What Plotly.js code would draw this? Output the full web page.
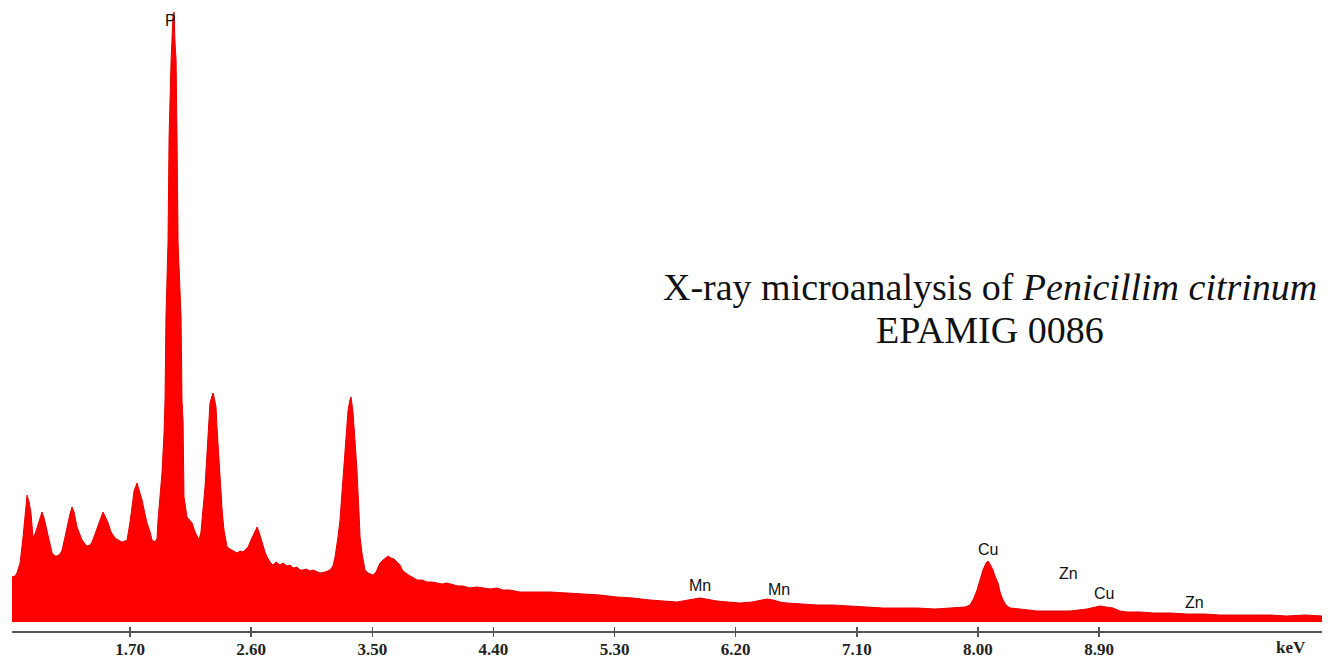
<!DOCTYPE html>
<html>
<head>
<meta charset="utf-8">
<script src="https://cdn.plot.ly/plotly-3.0.1.min.js"></script>
<style>html,body{margin:0;padding:0;background:#fff;}#chart{width:1336px;height:659px;}</style>
</head>
<body>
<div id="chart"></div>
<script>
// Energy (keV) of spectrum points
const energyKeV = [
0.823,0.846,0.860,0.883,0.905,0.920,0.935,0.950,0.964,0.979,0.994,1.009,1.031,1.046,1.061,1.083,1.106,1.121,1.143,1.158,
1.180,1.195,1.217,1.232,1.254,1.269,1.284,1.306,1.328,1.343,1.366,1.381,1.403,1.418,1.440,1.462,1.485,1.499,1.514,1.537,
1.559,1.589,1.611,1.641,1.663,1.678,1.700,1.715,1.730,1.752,1.767,1.789,1.811,1.826,1.849,1.863,1.886,1.901,1.908,1.923,
1.938,1.953,1.960,1.967,1.982,1.990,2.005,2.019,2.027,2.034,2.042,2.049,2.057,2.079,2.086,2.094,2.101,2.123,2.146,2.161,
2.183,2.198,2.213,2.227,2.242,2.257,2.272,2.287,2.294,2.309,2.317,2.324,2.339,2.346,2.354,2.369,2.384,2.398,2.421,2.443,
2.458,2.480,2.495,2.517,2.540,2.562,2.577,2.599,2.614,2.629,2.644,2.658,2.681,2.703,2.718,2.740,2.762,2.785,2.814,2.837,
2.866,2.889,2.911,2.941,2.963,2.985,3.008,3.037,3.060,3.089,3.112,3.149,3.186,3.208,3.223,3.245,3.260,3.275,3.297,3.312,
3.320,3.334,3.342,3.349,3.357,3.372,3.386,3.401,3.409,3.424,3.446,3.468,3.483,3.505,3.528,3.542,3.557,3.580,3.602,3.617,
3.639,3.661,3.684,3.706,3.728,3.758,3.780,3.810,3.832,3.869,3.907,3.944,3.981,4.018,4.055,4.100,4.137,4.174,4.226,4.278,
4.323,4.375,4.427,4.471,4.523,4.597,4.694,4.820,4.947,5.066,5.192,5.318,5.437,5.563,5.675,5.764,5.846,5.898,5.935,5.979,
6.024,6.061,6.143,6.232,6.321,6.381,6.433,6.477,6.529,6.581,6.678,6.804,6.923,7.049,7.175,7.294,7.421,7.547,7.681,7.814,
7.904,7.941,7.970,7.993,8.015,8.037,8.060,8.074,8.089,8.112,8.126,8.149,8.164,8.186,8.208,8.238,8.312,8.438,8.557,8.684,
8.810,8.869,8.907,8.951,9.003,9.055,9.107,9.204,9.300,9.427,9.553,9.687,9.798,9.947,10.043,10.170,10.296,10.430,10.556
];
// Counts (arbitrary units)
const counts = [
45,46,49,59,85,110,127,120,109,85,88,94,105,110,104,92,78,69,66,66,
68,72,85,95,108,115,110,95,86,82,78,76,77,80,88,97,106,110,106,99,
90,84,82,80,81,82,100,119,131,139,133,122,108,99,90,82,80,84,102,125,
150,190,222,305,379,485,562,605,610,580,562,485,379,305,222,200,125,105,101,99,
90,85,82,90,109,135,169,200,219,226,229,225,215,195,175,140,112,92,75,73,
72,70,69,71,70,73,75,82,87,92,95,90,79,70,65,60,57,60,57,59,
56,57,54,55,52,52,53,51,52,50,49,50,52,56,65,85,102,130,169,195,
212,222,225,218,209,180,152,110,85,68,52,49,48,47,50,55,59,62,65,66,
64,63,60,57,51,48,46,44,42,42,40,40,39,38,39,37,36,36,34,35,
34,33,34,32,32,30,30,30,29,28,27,25,24,22,21,20,22,23,24,23,
22,21,20,19,20,22,23,22,20,19,18,17,17,16,15,14,14,14,13,14,
15,17,24,32,42,52,59,61,58,52,46,39,30,22,17,14,13,11,11,11,
13,15,16,15,14,11,10,10,9,9,8,8,7,7,7,7,6,7,6
];
// Axis tick values and labels
const tickValues = [1.70, 2.60, 3.50, 4.40, 5.30, 6.20, 7.10, 8.00, 8.90];
const tickLabels = ["1.70", "2.60", "3.50", "4.40", "5.30", "6.20", "7.10", "8.00", "8.90"];
// Element labels and their positions (keV, counts)
const elementLabels = ["P", "Mn", "Mn", "Cu", "Zn", "Cu", "Zn"];
const elementX = [1.997, 5.935, 6.521, 8.074, 8.669, 8.936, 9.612];
const elementY = [602, 37, 33, 73, 49, 29, 20];

const xRange = [0.823, 10.556];

const traces = [
  {
    x: energyKeV, y: counts, type: "scatter", mode: "lines",
    fill: "tozeroy", fillcolor: "#ff0000",
    line: {color: "#e60000", width: 1},
    hoverinfo: "skip", showlegend: false
  },
  { x: [], y: [], xaxis: "x2", type: "scatter", mode: "lines", showlegend: false, hoverinfo: "skip" }
];

const annotations = elementLabels.map((t, i) => ({
  x: elementX[i], y: elementY[i], xref: "x", yref: "y", text: t, showarrow: false,
  font: {family: "Liberation Sans, Arial, sans-serif", size: 16, color: "#111"},
  xanchor: "center", yanchor: "middle"
}));
annotations.push({
  xref: "paper", yref: "paper", x: 0.7466, y: 0.5452, xanchor: "center", yanchor: "middle",
  text: "X-ray microanalysis of <i>Penicillim citrinum</i>", showarrow: false,
  font: {family: "Liberation Serif, Times New Roman, serif", size: 38, color: "#111"}
});
annotations.push({
  xref: "paper", yref: "paper", x: 0.7466, y: 0.4770, xanchor: "center", yanchor: "middle",
  text: "EPAMIG 0086", showarrow: false,
  font: {family: "Liberation Serif, Times New Roman, serif", size: 38, color: "#111"}
});
annotations.push({
  xref: "x", yref: "paper", x: 10.325, y: -0.0254, xanchor: "center", yanchor: "middle",
  text: "keV", showarrow: false,
  font: {family: "Liberation Serif, Times New Roman, serif", size: 17, color: "#222", weight: "bold"}
});

const layout = {
  width: 1336, height: 659,
  margin: {l: 12, r: 14, t: 0, b: 28},
  paper_bgcolor: "#ffffff", plot_bgcolor: "#ffffff",
  showlegend: false,
  xaxis: {
    range: xRange, showgrid: false, zeroline: false,
    showline: true, linecolor: "#555", linewidth: 1.5,
    ticks: "outside", ticklen: 4, tickwidth: 1.5, tickcolor: "#555",
    ticklabelstandoff: -2,
    tickmode: "array", tickvals: tickValues, ticktext: tickLabels,
    tickfont: {family: "Liberation Serif, Times New Roman, serif", size: 17, color: "#222", weight: "bold"}
  },
  xaxis2: {
    range: xRange, overlaying: "x", anchor: "y", side: "bottom", matches: "x",
    showgrid: false, zeroline: false, showline: false,
    ticks: "inside", ticklen: 4, tickwidth: 1.5, tickcolor: "#555",
    tickmode: "array", tickvals: tickValues, showticklabels: false
  },
  yaxis: {range: [-9, 622], visible: false, fixedrange: true},
  annotations: annotations
};

Plotly.newPlot("chart", traces, layout, {displayModeBar: false, staticPlot: true});
</script>
</body>
</html>
